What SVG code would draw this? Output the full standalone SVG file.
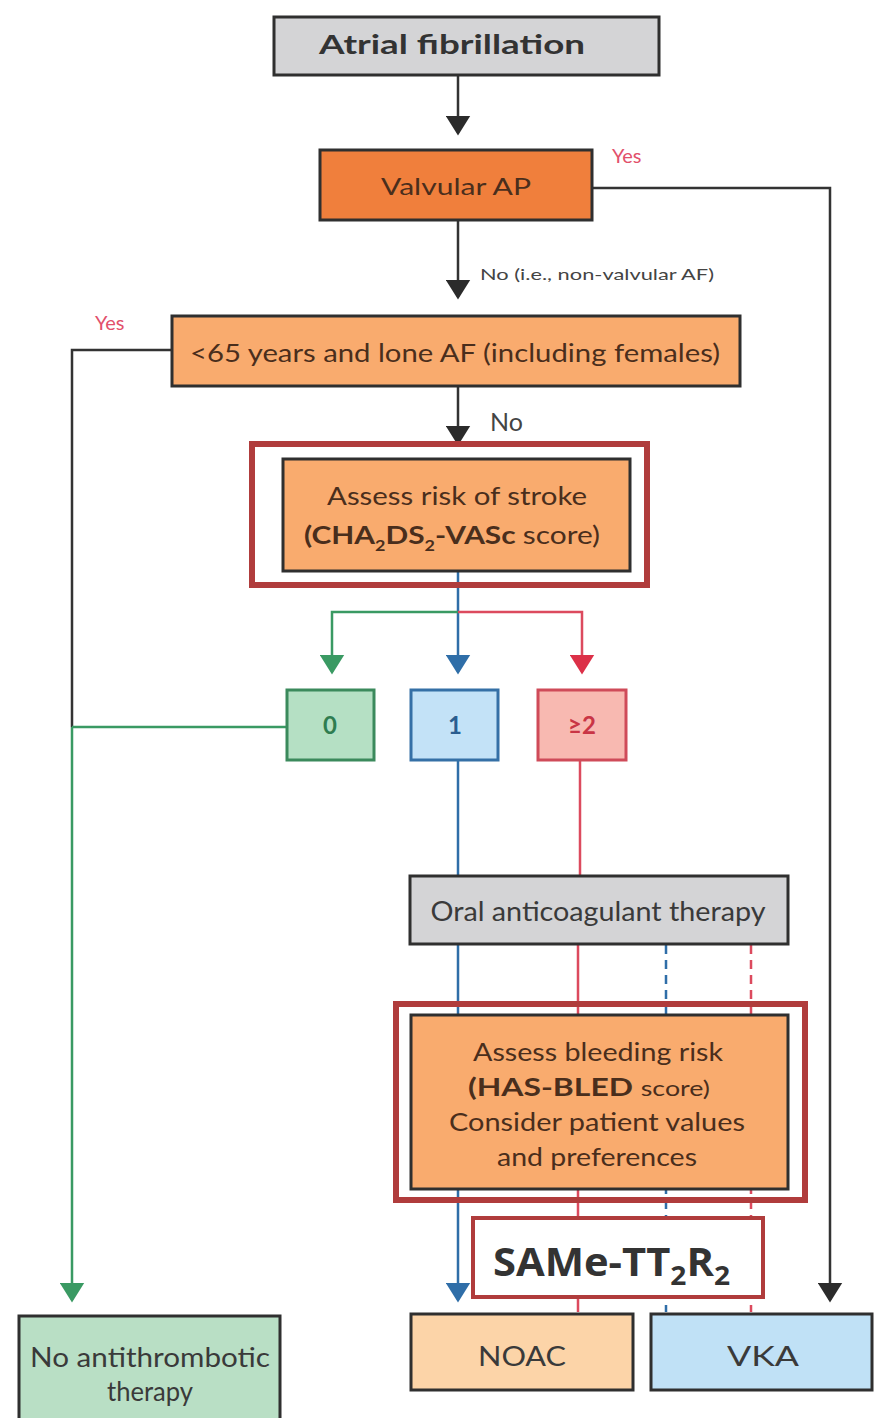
<svg xmlns="http://www.w3.org/2000/svg" width="881" height="1418" viewBox="0 0 881 1418">
<defs>
<style>
.t{font-family:Lato,"Liberation Sans",sans-serif;text-anchor:middle;}
.box{stroke:#2f2f2f;stroke-width:3;}
.hl{fill:none;stroke:#b03c3c;stroke-width:6;}
.ln{fill:none;stroke-width:2.5;}
.k{stroke:#333;}
.g{stroke:#3a9a63;}
.b{stroke:#2f6ea8;}
.r{stroke:#dc4a5e;}
.dash{stroke-dasharray:9,6;}
.yes{font-family:Lato,"Liberation Sans",sans-serif;font-size:20px;fill:#e2506b;}
.dk{fill:#4a2e1c;}
</style>
<marker id="ak" markerWidth="8" markerHeight="10" refX="7" refY="5" orient="auto" markerUnits="strokeWidth" viewBox="0 0 8 10"><path d="M0,0 L8,5 L0,10 z" fill="#2b2b2b"/></marker>
<marker id="ag" markerWidth="8" markerHeight="10" refX="7" refY="5" orient="auto" markerUnits="strokeWidth" viewBox="0 0 8 10"><path d="M0,0 L8,5 L0,10 z" fill="#3a9a63"/></marker>
<marker id="ab" markerWidth="8" markerHeight="10" refX="7" refY="5" orient="auto" markerUnits="strokeWidth" viewBox="0 0 8 10"><path d="M0,0 L8,5 L0,10 z" fill="#2f6ea8"/></marker>
<marker id="ar" markerWidth="8" markerHeight="10" refX="7" refY="5" orient="auto" markerUnits="strokeWidth" viewBox="0 0 8 10"><path d="M0,0 L8,5 L0,10 z" fill="#dc3048"/></marker>
</defs>
<rect width="881" height="1418" fill="#ffffff"/>

<g id="connectors">
  <path class="ln k" d="M458,75 V133" marker-end="url(#ak)"/>
  <path class="ln k" d="M458,220 V297" marker-end="url(#ak)"/>
  <path class="ln k" d="M592,188 H830 V1300" marker-end="url(#ak)"/>
  <path class="ln k" d="M172,350 H72 V727"/>
  <path class="ln g" d="M72,727 V1300" marker-end="url(#ag)"/>
  <path class="ln g" d="M287,727 H72"/>
  <path class="ln k" d="M458,386 V443" marker-end="url(#ak)"/>
  <path class="ln b" d="M458,572 V672" marker-end="url(#ab)"/>
  <path class="ln g" d="M458,612 H332 V672" marker-end="url(#ag)"/>
  <path class="ln r" d="M458,612 H582 V672" marker-end="url(#ar)"/>
  <path class="ln b" d="M458,760 V876"/>
  <path class="ln r" d="M580,760 V876"/>
  <path class="ln b" d="M458,945 V1300" marker-end="url(#ab)"/>
  <path class="ln r" d="M578,945 V1312"/>
  <path class="ln b dash" d="M666,945 V1312"/>
  <path class="ln r dash" d="M751,945 V1312"/>
</g>

<g id="atrial-fibrillation">
  <rect class="box" x="274" y="17" width="385" height="58" fill="#d4d4d6"/>
  <text class="t" x="452" y="54" font-size="27" font-weight="bold" fill="#333" textLength="266" lengthAdjust="spacingAndGlyphs">Atrial fibrillation</text>
</g>

<g id="valvular-ap">
  <rect class="box" x="320" y="150" width="272" height="70" fill="#f07f3c"/>
  <text class="t dk" x="456" y="195" font-size="23" textLength="150" lengthAdjust="spacingAndGlyphs">Valvular AP</text>
  <text class="yes" x="612" y="163">Yes</text>
  <text x="480" y="280" font-family="Lato,'Liberation Sans',sans-serif" font-size="16" fill="#444" textLength="234" lengthAdjust="spacingAndGlyphs">No (i.e., non-valvular AF)</text>
</g>

<g id="lone-af">
  <rect class="box" x="172" y="316" width="568" height="70" fill="#f9ab6e"/>
  <text class="t dk" x="455" y="362" font-size="25" textLength="530" lengthAdjust="spacingAndGlyphs">&lt;65 years and lone AF (including females)</text>
  <text class="yes" x="95" y="330">Yes</text>
  <text x="490" y="431" font-family="Lato,'Liberation Sans',sans-serif" font-size="25" fill="#444">No</text>
</g>

<g id="stroke-risk">
  <rect class="hl" x="252" y="444" width="395" height="141"/>
  <rect class="box" x="283" y="459" width="347" height="112" fill="#f9ab6e"/>
  <text class="t dk" x="457" y="505" font-size="25" textLength="260" lengthAdjust="spacingAndGlyphs">Assess risk of stroke</text>
  <text class="t dk" x="452" y="544" font-size="25" font-weight="bold" textLength="296" lengthAdjust="spacingAndGlyphs">(CHA<tspan font-size="15" dy="7">2</tspan><tspan dy="-7">DS</tspan><tspan font-size="15" dy="7">2</tspan><tspan dy="-7">-VASc </tspan><tspan font-weight="normal">score)</tspan></text>
</g>

<g id="score-0">
  <rect x="287" y="690" width="87" height="70" fill="#b5e0c4" stroke="#3b8a5c" stroke-width="3"/>
  <text class="t" x="330" y="734" font-size="24" font-weight="bold" fill="#2f7d50">0</text>
</g>
<g id="score-1">
  <rect x="411" y="690" width="87" height="70" fill="#c3e2f7" stroke="#3570a6" stroke-width="3"/>
  <text class="t" x="455" y="734" font-size="24" font-weight="bold" fill="#2a5d8f">1</text>
</g>
<g id="score-2">
  <rect x="538" y="690" width="88" height="70" fill="#f8b9b1" stroke="#cf4b59" stroke-width="3"/>
  <text class="t" x="582" y="734" font-size="24" font-weight="bold" fill="#c93545">≥2</text>
</g>

<g id="oac">
  <rect class="box" x="410" y="876" width="378" height="68" fill="#d4d4d6"/>
  <text class="t" x="598" y="921" font-size="26" fill="#3a3a3a" textLength="335" lengthAdjust="spacingAndGlyphs">Oral anticoagulant therapy</text>
</g>

<g id="bleeding-risk">
  <rect class="hl" x="396" y="1004" width="409" height="196"/>
  <rect class="box" x="411" y="1015" width="377" height="174" fill="#f9ab6e"/>
  <text class="t dk" x="598" y="1061" font-size="25" textLength="250" lengthAdjust="spacingAndGlyphs">Assess bleeding risk</text>
  <text class="t dk" x="589" y="1096" font-size="25" font-weight="bold" textLength="242" lengthAdjust="spacingAndGlyphs">(HAS-BLED <tspan font-weight="normal" font-size="21">score)</tspan></text>
  <text class="t dk" x="597" y="1131" font-size="25" textLength="296" lengthAdjust="spacingAndGlyphs">Consider patient values</text>
  <text class="t dk" x="597" y="1166" font-size="25" textLength="200" lengthAdjust="spacingAndGlyphs">and preferences</text>
</g>

<g id="same-tt2r2">
  <rect x="473" y="1218" width="290" height="79" fill="#ffffff" stroke="#b03c3c" stroke-width="4"/>
  <text x="493" y="1276" font-family="'Open Sans','Liberation Sans',sans-serif" font-size="40" font-weight="bold" fill="#333" textLength="237" lengthAdjust="spacingAndGlyphs">SAMe-TT<tspan font-size="27" dy="9">2</tspan><tspan dy="-9">R</tspan><tspan font-size="27" dy="9">2</tspan></text>
</g>

<g id="noac">
  <rect class="box" x="411" y="1314" width="222" height="76" fill="#fcd4a8"/>
  <text class="t" x="522" y="1366" font-size="27" fill="#3a3a3a" textLength="88" lengthAdjust="spacingAndGlyphs">NOAC</text>
</g>
<g id="vka">
  <rect class="box" x="651" y="1314" width="221" height="76" fill="#c0e1f6"/>
  <text class="t" x="763" y="1366" font-size="27" fill="#3a3a3a" textLength="72" lengthAdjust="spacingAndGlyphs">VKA</text>
</g>
<g id="no-antithrombotic">
  <rect class="box" x="19" y="1316" width="261" height="110" fill="#b9dfc5"/>
  <text class="t" x="150" y="1367" font-size="27" fill="#3a3a3a" textLength="240" lengthAdjust="spacingAndGlyphs">No antithrombotic</text>
  <text class="t" x="150" y="1401" font-size="27" fill="#3a3a3a" textLength="86" lengthAdjust="spacingAndGlyphs">therapy</text>
</g>
</svg>
